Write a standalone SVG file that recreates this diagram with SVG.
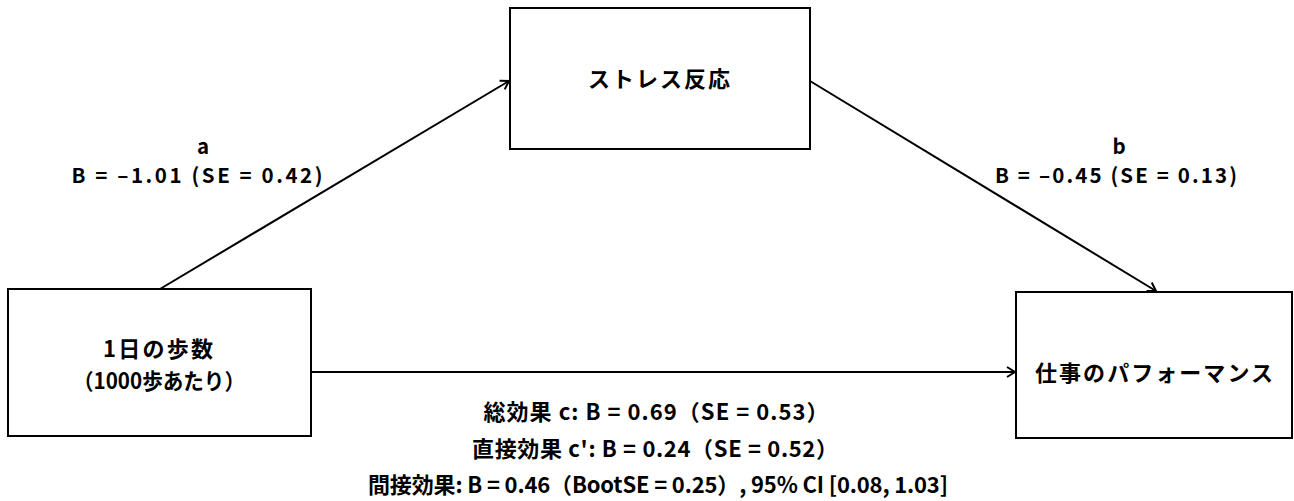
<svg xmlns="http://www.w3.org/2000/svg" width="1294" height="501" viewBox="0 0 1294 501">
<style>
.box{fill:#fff;stroke:#000;stroke-width:2}
.t{font-family:"Noto Sans CJK JP","Noto Sans",sans-serif;font-weight:bold;font-size:22px;fill:#000;text-anchor:middle}
.s{font-size:20.5px}
.c{stroke:#000;stroke-width:2;fill:none}
</style>
<defs>
<marker id="ah" markerWidth="14" markerHeight="14" refX="11" refY="7" orient="auto" markerUnits="userSpaceOnUse">
<polyline points="3,2 11,7 3,12" fill="none" stroke="#000" stroke-width="2"/>
</marker>
</defs>
<rect width="1294" height="501" fill="#fff"/>
<g id="connectors">
<line class="c" x1="160" y1="289" x2="509" y2="81" marker-end="url(#ah)"/>
<line class="c" x1="810" y1="81" x2="1156" y2="291" marker-end="url(#ah)"/>
<line class="c" x1="311" y1="372" x2="1015" y2="372" marker-end="url(#ah)"/>
</g>
<g id="node-steps">
<rect class="box" x="8" y="289" width="303" height="147"/>
<text class="t" x="158" y="357" textLength="110">1日の歩数</text>
<text class="t" x="159" y="389" textLength="172" lengthAdjust="spacingAndGlyphs">（1000歩あたり）</text>
</g>
<g id="node-stress">
<rect class="box" x="510" y="8" width="300" height="141"/>
<text class="t" x="659" y="87" textLength="142">ストレス反応</text>
</g>
<g id="node-performance">
<rect class="box" x="1016" y="292" width="276" height="146"/>
<text class="t" x="1154" y="381" textLength="238">仕事のパフォーマンス</text>
</g>
<g id="label-a">
<text class="t s" x="203" y="154">a</text>
<text class="t s" x="197" y="183" textLength="251">B = –1.01 (SE = 0.42)</text>
</g>
<g id="label-b">
<text class="t s" x="1119" y="154">b</text>
<text class="t s" x="1116" y="183" textLength="242">B = –0.45 (SE = 0.13)</text>
</g>
<g id="effects">
<text class="t" x="656" y="420" textLength="345">総効果 c: B = 0.69（SE = 0.53）</text>
<text class="t" x="655" y="457" textLength="366">直接効果 c': B = 0.24（SE = 0.52）</text>
<text class="t" x="658" y="493" textLength="580">間接効果: B = 0.46（BootSE = 0.25）, 95% CI [0.08, 1.03]</text>
</g>
</svg>
